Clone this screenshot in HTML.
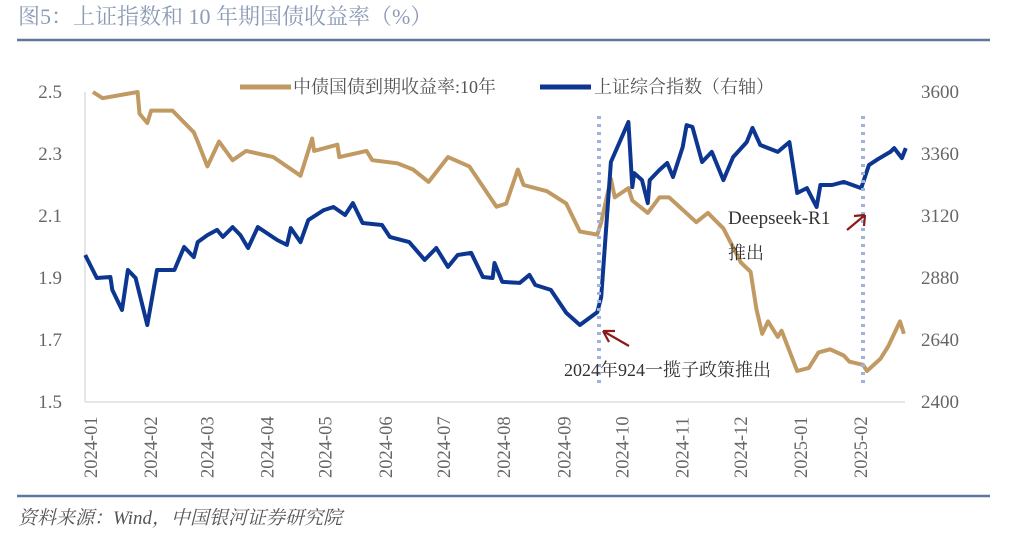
<!DOCTYPE html>
<html><head><meta charset="utf-8"><style>
html,body{margin:0;padding:0;background:#fff;width:1024px;height:534px;overflow:hidden}
svg{display:block}
</style></head><body>
<svg id="chart" width="1024" height="534" xmlns="http://www.w3.org/2000/svg">
<text x="18" y="24" font-family="'Liberation Serif','Noto Serif CJK SC',serif" font-size="22" fill="#8c9cb6">图5：上证指数和 10 年期国债收益率（%）</text>
<line x1="17" y1="40" x2="990" y2="40" stroke="#5d789c" stroke-width="2.5"/>
<line x1="17" y1="496" x2="990" y2="496" stroke="#5d789c" stroke-width="2.5"/>
<text x="18" y="524" font-family="'Liberation Serif','Noto Serif CJK SC',serif" font-style="italic" font-size="19" fill="#555">资料来源：Wind，中国银河证券研究院</text>
<line x1="85" y1="92" x2="85" y2="402" stroke="#ddd" stroke-width="1.5"/>
<line x1="85" y1="402" x2="905" y2="402" stroke="#ddd" stroke-width="1.5"/>
<g id="axes"></g>
<g id="marks"></g>
<g font-family="'Liberation Serif','Noto Serif CJK SC',serif" font-size="18" fill="#555">
<line x1="240" y1="87" x2="291" y2="87" stroke="#c09a62" stroke-width="5"/>
<text x="293" y="93">中债国债到期收益率:10年</text>
<line x1="540" y1="87" x2="591" y2="87" stroke="#0d3691" stroke-width="5"/>
<text x="594" y="93">上证综合指数（右轴）</text>
</g>
<line x1="599" y1="116" x2="599" y2="386" stroke="#9fb3dd" stroke-width="4" stroke-dasharray="3,5"/>
<line x1="863" y1="116" x2="863" y2="388" stroke="#9fb3dd" stroke-width="4" stroke-dasharray="3,5"/>
<g font-family="'Liberation Serif','Noto Serif CJK SC',serif" font-size="18" fill="#333">
<text x="564" y="376">2024年924一揽子政策推出</text>
<text x="728" y="224" font-size="19">Deepseek-R1</text>
<text x="728" y="259">推出</text>
</g>
<g stroke="#8b1a1a" stroke-width="2.2" fill="none">
<path d="M629,346 L603,331 M603,331 L615,331 M603,331 L609,342"/>
<path d="M847,230 L865,215 M865,215 L854,216 M865,215 L864,226"/>
</g>
</svg>
<script>
const xTickLabels=["2024-01","2024-02","2024-03","2024-04","2024-05","2024-06","2024-07","2024-08","2024-09","2024-10","2024-11","2024-12","2025-01","2025-02"];
const xTickDays=[0,31,60,91,121,152,182,213,244,274,305,335,366,397];
const leftTicks=[2.5,2.3,2.1,1.9,1.7,1.5];
const rightTicks=[3600,3360,3120,2880,2640,2400];
const bondDays=[1,6,24,25,29,31,42,53,55,60,66,73,80,94,108,114,115,127,128,142,145,158,166,174,184,195,209,214,220,223,235,245,252,261,263,268,270,277,279,287,293,298,312,318,326,335,340,343,346,349,354,356,364,370,375,381,388,391,398,400,407,411,417,419];
const bondValues=[2.50,2.48,2.50,2.43,2.40,2.44,2.44,2.37,2.34,2.26,2.34,2.28,2.31,2.29,2.23,2.35,2.31,2.33,2.29,2.31,2.28,2.27,2.25,2.21,2.29,2.26,2.13,2.14,2.25,2.20,2.18,2.14,2.05,2.04,2.08,2.22,2.16,2.19,2.15,2.11,2.16,2.16,2.08,2.11,2.06,1.95,1.92,1.80,1.72,1.76,1.71,1.73,1.60,1.61,1.66,1.67,1.65,1.63,1.62,1.60,1.64,1.68,1.76,1.72];
const indexDays=[-3,3,10,11,16,19,23,29,34,43,48,53,55,60,65,68,73,77,81,86,96,101,103,108,112,120,125,131,135,140,150,154,164,172,178,184,189,196,202,207,208,212,221,226,229,237,245,252,261,263,268,277,279,280,284,287,288,293,297,300,305,307,310,315,320,326,331,338,341,345,354,360,364,369,374,376,382,388,397,401,405,412,414,418,420];
const indexValues=[2969,2880,2884,2834,2756,2911,2880,2698,2911,2911,3000,2961,3019,3046,3066,3039,3077,3046,2996,3077,3027,3008,3073,3019,3104,3143,3155,3124,3170,3093,3085,3039,3019,2950,2996,2923,2969,2977,2884,2880,2938,2865,2861,2892,2853,2834,2745,2698,2748,2806,3329,3484,3232,3286,3259,3170,3259,3298,3325,3271,3387,3472,3465,3329,3368,3259,3348,3406,3461,3395,3368,3406,3209,3228,3155,3240,3240,3252,3228,3317,3337,3368,3383,3344,3383];

const NS="http://www.w3.org/2000/svg";
const xScale=d=>91+d*1.94;
const yLeft=v=>92+(2.5-v)/1.0*310;
const yRight=v=>92+(3600-v)/1200*310;
const axes=document.getElementById('axes');
const marks=document.getElementById('marks');
function mk(tag,attrs,parent){const e=document.createElementNS(NS,tag);for(const k in attrs)e.setAttribute(k,attrs[k]);parent.appendChild(e);return e;}
const font="'Liberation Serif',serif";
leftTicks.forEach(v=>{
  const t=mk('text',{x:62,y:yLeft(v)+6,'text-anchor':'end','font-family':font,'font-size':19,fill:'#666'},axes);
  t.textContent=v.toFixed(1);
  
  
});
rightTicks.forEach(v=>{
  const t=mk('text',{x:921,y:yRight(v)+6,'font-family':font,'font-size':19,fill:'#666'},axes);
  t.textContent=v;
  
  
});
xTickLabels.forEach((lab,i)=>{
  const x=xScale(xTickDays[i]);
  const t=mk('text',{x:0,y:0,transform:`translate(${x+6},478) rotate(-90)`,'font-family':font,'font-size':18.5,fill:'#666'},axes);
  t.textContent=lab;
  
  
});
const bp=mk('polyline',{points:bondDays.map((d,i)=>xScale(d).toFixed(1)+','+yLeft(bondValues[i]).toFixed(1)).join(' '),fill:'none',stroke:'#c09a62','stroke-width':4,'stroke-linejoin':'round'},marks);


const ip=mk('polyline',{points:indexDays.map((d,i)=>xScale(d).toFixed(1)+','+yRight(indexValues[i]).toFixed(1)).join(' '),fill:'none',stroke:'#0d3691','stroke-width':4,'stroke-linejoin':'round'},marks);


</script>
</body></html>
